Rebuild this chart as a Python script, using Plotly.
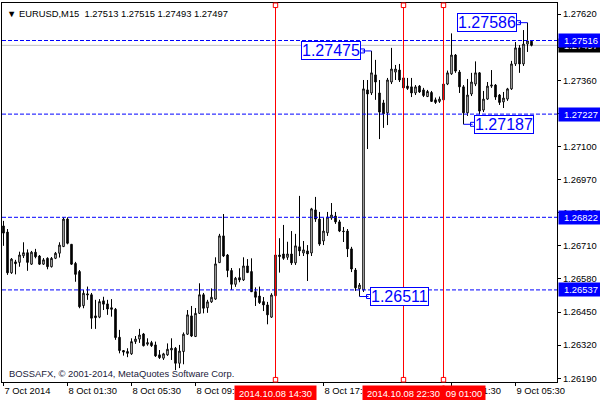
import plotly.graph_objects as go

# ---------------- data (EURUSD M15, bar index 0 = 7 Oct 21:30) ----------------
bars = list(range(133))

opens = [
    1.26788, 1.26764, 1.26604, 1.26647, 1.26645, 1.26671, 1.26683, 1.26638, 1.26685, 1.26670,
    1.26638, 1.26661, 1.26628, 1.26661, 1.26681, 1.26707, 1.26815, 1.26716, 1.26641, 1.26609,
    1.26475, 1.26517, 1.26518, 1.26435, 1.26430, 1.26494, 1.26482, 1.26467, 1.26461, 1.26351,
    1.26299, 1.26295, 1.26286, 1.26334, 1.26344, 1.26364, 1.26324, 1.26330, 1.26321, 1.26282,
    1.26269, 1.26282, 1.26301, 1.26308, 1.26249, 1.26295, 1.26363, 1.26435, 1.26354, 1.26445,
    1.26518, 1.26467, 1.26490, 1.26501, 1.26644, 1.26749, 1.26674, 1.26613, 1.26559, 1.26585,
    1.26576, 1.26631, 1.26609, 1.26530, 1.26513, 1.26491, 1.26478, 1.26430, 1.26514, 1.26674,
    1.26678, 1.26665, 1.26678, 1.26643, 1.26706, 1.26682, 1.26690, 1.26682, 1.26851, 1.26815,
    1.26729, 1.26761, 1.26819, 1.26827, 1.26804, 1.26768, 1.26768, 1.26698, 1.26615, 1.26541,
    1.26537, 1.27322, 1.27310, 1.27381, 1.27310, 1.27271, 1.27232, 1.27353, 1.27392, 1.27400,
    1.27369, 1.27337, 1.27334, 1.27310, 1.27337, 1.27322, 1.27296, 1.27312, 1.27283, 1.27277,
    1.27283, 1.27345, 1.27385, 1.27459, 1.27392, 1.27334, 1.27232, 1.27306, 1.27345, 1.27389,
    1.27243, 1.27286, 1.27337, 1.27341, 1.27302, 1.27275, 1.27286, 1.27326, 1.27424, 1.27487,
    1.27424, 1.27502, 1.27513]

highs = [
    1.26808, 1.26776, 1.26662, 1.26655, 1.26687, 1.26724, 1.26696, 1.26690, 1.26698, 1.26674,
    1.26662, 1.26665, 1.26666, 1.26686, 1.26724, 1.26822, 1.26822, 1.26717, 1.26647, 1.26615,
    1.26537, 1.26550, 1.26525, 1.26498, 1.26501, 1.26510, 1.26498, 1.26501, 1.26466, 1.26380,
    1.26301, 1.26308, 1.26347, 1.26356, 1.26384, 1.26368, 1.26347, 1.26337, 1.26334, 1.26301,
    1.26290, 1.26327, 1.26347, 1.26313, 1.26321, 1.26370, 1.26458, 1.26474, 1.26466, 1.26563,
    1.26525, 1.26498, 1.26543, 1.26665, 1.26757, 1.26835, 1.26678, 1.26623, 1.26588, 1.26622,
    1.26665, 1.26658, 1.26661, 1.26547, 1.26550, 1.26509, 1.26490, 1.26524, 1.26722, 1.26740,
    1.26792, 1.26726, 1.26768, 1.26757, 1.26906, 1.26729, 1.26713, 1.26859, 1.26902, 1.26843,
    1.26819, 1.26843, 1.26878, 1.26843, 1.26812, 1.26784, 1.26776, 1.26706, 1.26623, 1.26564,
    1.27361, 1.27361, 1.27475, 1.27440, 1.27361, 1.27283, 1.27369, 1.27487, 1.27420, 1.27424,
    1.27400, 1.27369, 1.27369, 1.27341, 1.27341, 1.27330, 1.27322, 1.27318, 1.27292, 1.27296,
    1.27353, 1.27398, 1.27544, 1.27463, 1.27400, 1.27341, 1.27365, 1.27389, 1.27434, 1.27392,
    1.27318, 1.27353, 1.27400, 1.27345, 1.27306, 1.27314, 1.27330, 1.27436, 1.27510, 1.27498,
    1.27557, 1.27586, 1.27515]

lows = [
    1.26710, 1.26596, 1.26600, 1.26598, 1.26628, 1.26662, 1.26612, 1.26635, 1.26661, 1.26635,
    1.26635, 1.26618, 1.26625, 1.26658, 1.26664, 1.26706, 1.26716, 1.26635, 1.26569, 1.26465,
    1.26465, 1.26498, 1.26384, 1.26384, 1.26426, 1.26458, 1.26439, 1.26432, 1.26341, 1.26288,
    1.26279, 1.26273, 1.26282, 1.26325, 1.26329, 1.26315, 1.26318, 1.26313, 1.26274, 1.26266,
    1.26262, 1.26278, 1.26262, 1.26222, 1.26230, 1.26245, 1.26360, 1.26352, 1.26352, 1.26443,
    1.26445, 1.26447, 1.26486, 1.26498, 1.26643, 1.26666, 1.26587, 1.26537, 1.26549, 1.26567,
    1.26572, 1.26604, 1.26529, 1.26474, 1.26482, 1.26454, 1.26402, 1.26427, 1.26513, 1.26605,
    1.26655, 1.26655, 1.26635, 1.26635, 1.26670, 1.26670, 1.26572, 1.26670, 1.26804, 1.26710,
    1.26713, 1.26749, 1.26812, 1.26796, 1.26764, 1.26725, 1.26666, 1.26607, 1.26533, 1.26511,
    1.26529, 1.27090, 1.27302, 1.27283, 1.27129, 1.27173, 1.27184, 1.27345, 1.27361, 1.27353,
    1.27322, 1.27322, 1.27294, 1.27302, 1.27310, 1.27294, 1.27294, 1.27275, 1.27267, 1.27271,
    1.27279, 1.27341, 1.27381, 1.27389, 1.27310, 1.27187, 1.27220, 1.27298, 1.27337, 1.27226,
    1.27235, 1.27283, 1.27330, 1.27283, 1.27263, 1.27251, 1.27279, 1.27322, 1.27416, 1.27389,
    1.27416, 1.27471, 1.27493]

closes = [
    1.26760, 1.26604, 1.26658, 1.26640, 1.26674, 1.26683, 1.26645, 1.26685, 1.26667, 1.26638,
    1.26655, 1.26628, 1.26661, 1.26681, 1.26713, 1.26815, 1.26720, 1.26638, 1.26598, 1.26471,
    1.26524, 1.26521, 1.26426, 1.26428, 1.26491, 1.26481, 1.26462, 1.26461, 1.26350, 1.26299,
    1.26293, 1.26288, 1.26334, 1.26344, 1.26360, 1.26318, 1.26330, 1.26318, 1.26278, 1.26271,
    1.26286, 1.26304, 1.26308, 1.26249, 1.26297, 1.26363, 1.26439, 1.26356, 1.26445, 1.26518,
    1.26465, 1.26490, 1.26508, 1.26639, 1.26749, 1.26670, 1.26613, 1.26559, 1.26583, 1.26576,
    1.26631, 1.26605, 1.26530, 1.26508, 1.26487, 1.26478, 1.26439, 1.26517, 1.26674, 1.26668,
    1.26661, 1.26678, 1.26643, 1.26710, 1.26690, 1.26694, 1.26678, 1.26855, 1.26815, 1.26717,
    1.26768, 1.26823, 1.26831, 1.26804, 1.26768, 1.26766, 1.26698, 1.26619, 1.26545, 1.26556,
    1.27326, 1.27306, 1.27389, 1.27353, 1.27235, 1.27228, 1.27361, 1.27404, 1.27404, 1.27361,
    1.27330, 1.27328, 1.27310, 1.27334, 1.27314, 1.27300, 1.27316, 1.27277, 1.27273, 1.27286,
    1.27345, 1.27389, 1.27459, 1.27396, 1.27334, 1.27232, 1.27302, 1.27353, 1.27389, 1.27239,
    1.27286, 1.27337, 1.27341, 1.27294, 1.27273, 1.27290, 1.27326, 1.27424, 1.27487, 1.27424,
    1.27502, 1.27514, 1.27497]

level_lines = [1.27516, 1.27227, 1.26822, 1.26537]
bid_price = 1.27497

vline_bars = [68, 100, 110]
vline_labels = ["2014.10.08 14:30", "2014.10.08 22:30", "09 01:00"]

xtick_bars = [0, 16, 32, 48, 80, 112, 128]
xtick_text = ["7 Oct 2014", "8 Oct 01:30", "8 Oct 05:30", "8 Oct 09:30",
              "8 Oct 17:30", "9 Oct 01:30", "9 Oct 05:30"]

ytick_vals = [1.27620, 1.27490, 1.27360, 1.27230, 1.27100, 1.26970,
              1.26840, 1.26710, 1.26580, 1.26450, 1.26320, 1.26190]

# extreme price marks: (bar, price, label side)
mark_bars = [92, 131, 115, 89]
mark_prices = [1.27475, 1.27586, 1.27187, 1.26511]
mark_sides = ["left", "left", "right", "right"]

title_text = "▼ EURUSD,M15&nbsp;&nbsp;1.27513 1.27515 1.27493 1.27497"
copyright_text = "BOSSAFX, © 2001-2014, MetaQuotes Software Corp."

# ---------------- figure ----------------
FONT = "Liberation Sans"
FS = 9.4
BLUE = "#0000ff"

fig = go.Figure()
fig.add_trace(go.Candlestick(
    x=bars, open=opens, high=highs, low=lows, close=closes,
    increasing=dict(fillcolor="white", line=dict(color="black", width=1)),
    decreasing=dict(fillcolor="black", line=dict(color="black", width=1)),
    whiskerwidth=0, showlegend=False, hoverinfo="skip",
))

shapes = []
shapes.append(dict(type="line", xref="paper", x0=0, x1=1, yref="y", y0=bid_price, y1=bid_price,
                   line=dict(color="#c0c0c0", width=1), layer="below"))
for lv in level_lines:
    shapes.append(dict(type="line", xref="paper", x0=0, x1=1, yref="y", y0=lv, y1=lv,
                       line=dict(color=BLUE, width=1, dash="4px,2px"), layer="above"))
for b in vline_bars:
    shapes.append(dict(type="line", xref="x", x0=b, x1=b, yref="paper", y0=0, y1=1,
                       line=dict(color="red", width=1), layer="above"))
    for (ya, yb) in [(0.0, 0.012), (0.988, 1.0)]:
        shapes.append(dict(type="rect", xref="x", x0=b - 0.55, x1=b + 0.55, yref="paper",
                           y0=ya, y1=yb, fillcolor="white", line=dict(color="red", width=1),
                           layer="above"))

annotations = []
mk_x, mk_y = [], []
for b, p, side in zip(mark_bars, mark_prices, mark_sides):
    sgn = -1 if side == "left" else 1
    mx = b + sgn * 2.25
    shapes.append(dict(type="line", xref="x", x0=b, x1=mx, yref="y", y0=p, y1=p,
                       line=dict(color=BLUE, width=1), layer="above"))
    mk_x.append(mx)
    mk_y.append(p)
    annotations.append(dict(
        x=b + sgn * 2.6, y=p, xref="x", yref="y", text=f"{p:.5f}", showarrow=False,
        xanchor="right" if side == "left" else "left", yanchor="middle",
        font=dict(family=FONT, size=16, color=BLUE), bgcolor="white",
        bordercolor=BLUE, borderwidth=1, borderpad=0))

fig.add_trace(go.Scatter(x=mk_x, y=mk_y, mode="markers", showlegend=False, hoverinfo="skip",
                         marker=dict(symbol="square", size=4, color="white",
                                     line=dict(color=BLUE, width=1))))

# price-axis labels
annotations.append(dict(x=1, y=bid_price, xref="paper", yref="y", xanchor="left", xshift=1,
                        text=f"{bid_price:.5f}", showarrow=False, width=42, height=11,
                        bgcolor="black", font=dict(family=FONT, size=FS, color="white")))
for lv in level_lines:
    annotations.append(dict(x=1, y=lv, xref="paper", yref="y", xanchor="left", xshift=1,
                            text=f"{lv:.5f}", showarrow=False, width=42, height=11,
                            bgcolor=BLUE, font=dict(family=FONT, size=FS, color="white")))

# time labels for vertical lines
for b, t in zip(vline_bars, vline_labels):
    short = len(t) < 10
    annotations.append(dict(x=b, y=0, xref="x", yref="paper", yanchor="top", yshift=-3,
                            xanchor="left" if short else "center", xshift=-2 if short else 0,
                            text=t, showarrow=False, bgcolor="red",
                            width=40 if short else 79, height=13,
                            font=dict(family=FONT, size=FS, color="white")))

annotations.append(dict(x=0, y=1, xref="paper", yref="paper", xanchor="left", yanchor="top",
                        xshift=3, yshift=-3, text=title_text, showarrow=False,
                        font=dict(family=FONT, size=FS, color="black")))
annotations.append(dict(x=0, y=0, xref="paper", yref="paper", xanchor="left", yanchor="bottom",
                        xshift=5, yshift=1, text=copyright_text, showarrow=False,
                        font=dict(family=FONT, size=FS, color="#1a1a3a")))

fig.update_layout(
    template="none",
    width=600, height=400,
    margin=dict(l=2, r=43, t=3, b=18, autoexpand=False),
    paper_bgcolor="white", plot_bgcolor="white",
    boxgap=0.45,
    shapes=shapes, annotations=annotations,
    showlegend=False,
    xaxis=dict(range=[-0.375, 138.375], showgrid=False, zeroline=False, automargin=False,
               showline=True, linecolor="black", linewidth=1, mirror=True,
               ticks="outside", ticklen=3, tickcolor="black",
               tickvals=xtick_bars, ticktext=xtick_text, ticklabelposition="outside right",
               tickfont=dict(family=FONT, size=FS, color="black"),
               rangeslider=dict(visible=False)),
    yaxis=dict(range=[1.261755, 1.276632], side="right", showgrid=False, zeroline=False,
               automargin=False,
               showline=True, linecolor="black", linewidth=1, mirror=True,
               ticks="outside", ticklen=3, tickcolor="black",
               tickvals=ytick_vals, tickformat=".5f",
               tickfont=dict(family=FONT, size=FS, color="black")),
)

fig.write_html("out.html",
               config={"displayModeBar": False, "staticPlot": True},
               post_script="document.body.style.margin='0px';document.body.style.overflow='hidden';")
